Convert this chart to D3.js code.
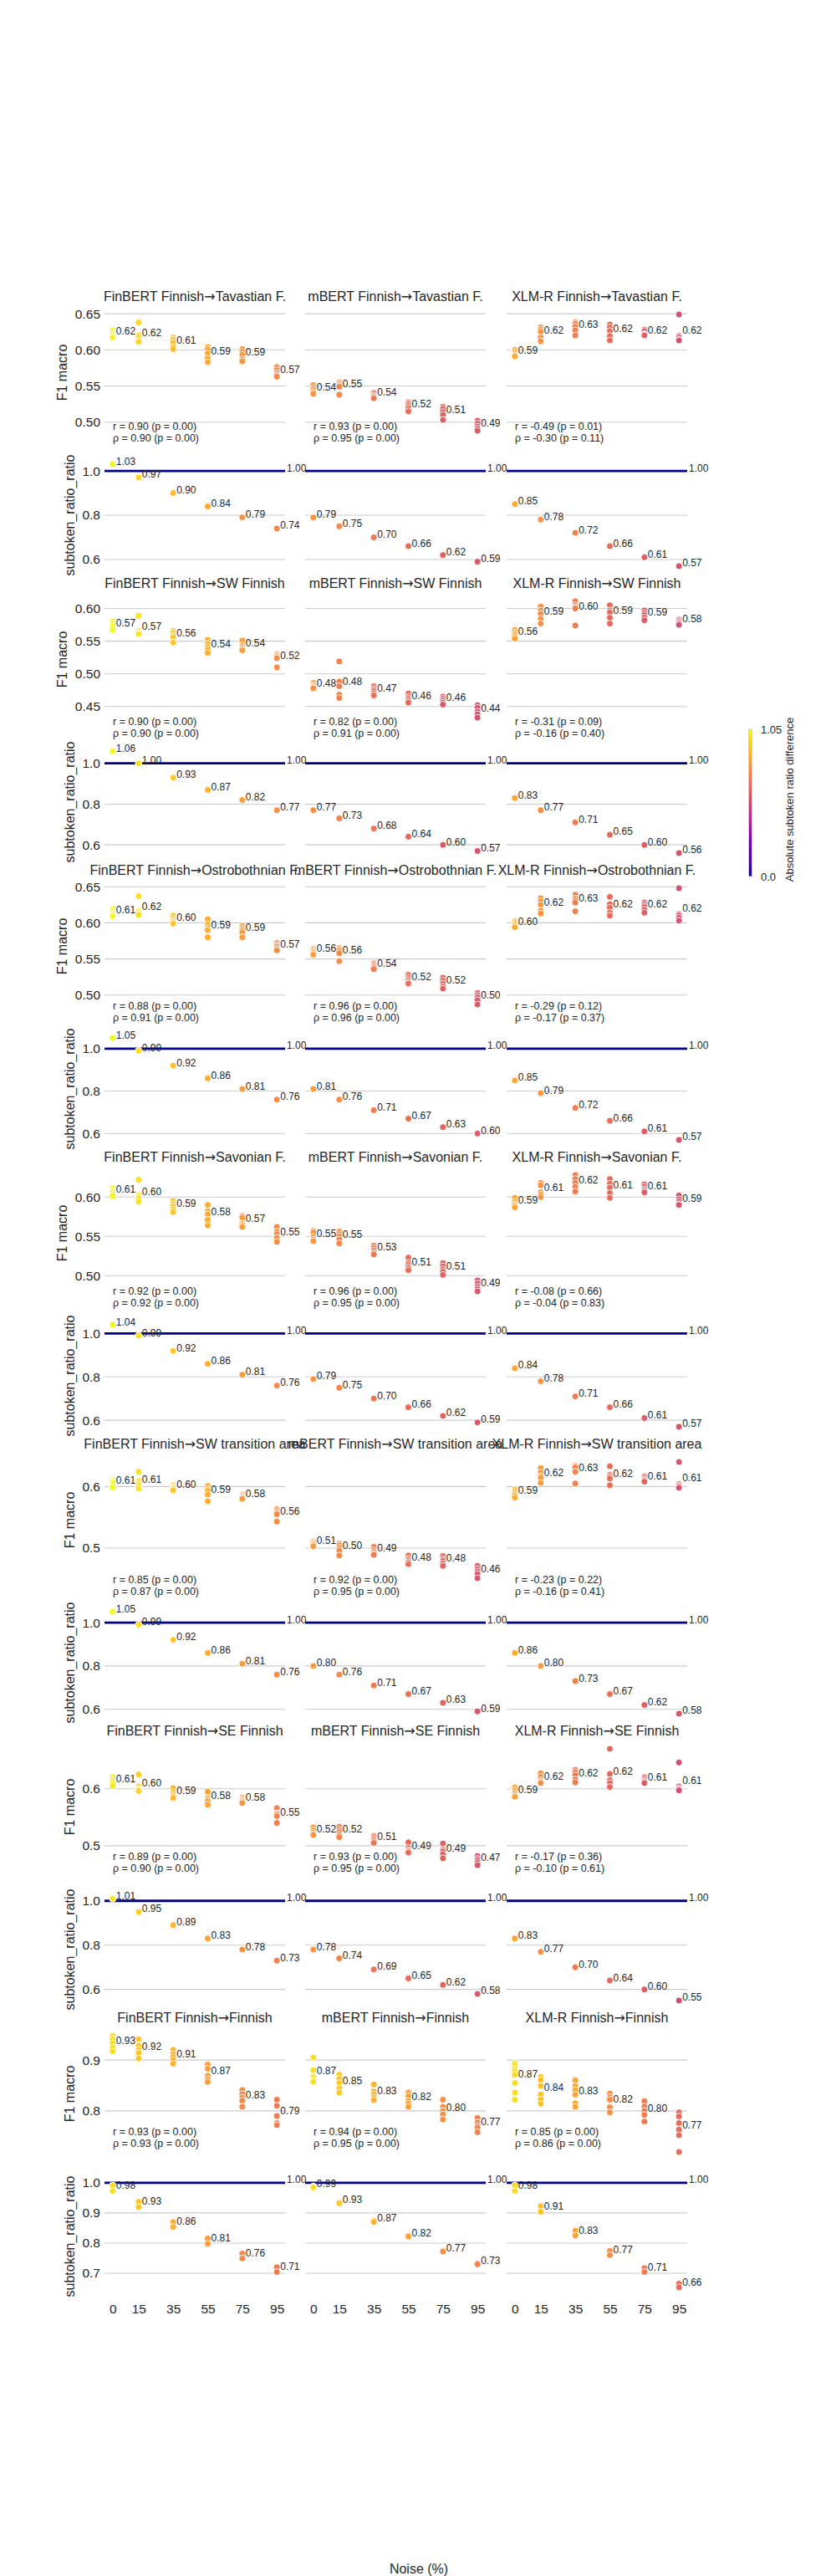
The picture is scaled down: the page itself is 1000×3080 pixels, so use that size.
<!DOCTYPE html>
<html>
<head>
<meta charset="utf-8">
<script src="https://cdn.jsdelivr.net/npm/d3@7"></script>
<style>
  body { margin: 0; background: #fff; }
  svg text { font-family: "Liberation Sans", Arial, sans-serif; fill: #262626; }
</style>
</head>
<body>
<div id="chart"></div>
<script>
// ---- data ----
const noiseLevels = [0, 15, 35, 55, 75, 95];
const models = ["FinBERT", "mBERT", "XLM-R"];
const dialects = ["Tavastian F.", "SW Finnish", "Ostrobothnian F.", "Savonian F.",
                  "SW transition area", "SE Finnish", "Finnish"];

// F1 macro per run: [model][noise level][runs]
const f1Tavastian = [
  [[0.627,0.624,0.621,0.619,0.617],[0.638,0.620,0.617,0.613,0.611],[0.617,0.614,0.610,0.604,0.601],
   [0.604,0.601,0.595,0.588,0.583],[0.601,0.597,0.593,0.587,0.584],[0.576,0.572,0.568,0.565,0.563]],
  [[0.551,0.547,0.544,0.541,0.539],[0.555,0.553,0.551,0.549,0.538],[0.541,0.540,0.537,0.535,0.533],
   [0.527,0.525,0.522,0.519,0.515],[0.521,0.518,0.514,0.510,0.503],[0.502,0.498,0.494,0.491,0.488]],
  [[0.600,0.597,0.594,0.592,0.591],[0.631,0.628,0.625,0.617,0.612],[0.638,0.636,0.632,0.627,0.620],
   [0.635,0.631,0.626,0.619,0.613],[0.628,0.626,0.622,0.621,0.620],[0.649,0.619,0.617,0.614,0.613]]
];
const f1SwFinnish = [
  [[0.580,0.576,0.573,0.570,0.567],[0.589,0.566,0.564,0.562,0.561],[0.566,0.563,0.559,0.556,0.548],
   [0.552,0.546,0.541,0.537,0.532],[0.551,0.544,0.541,0.538,0.536],[0.530,0.528,0.526,0.524,0.510]],
  [[0.486,0.483,0.481,0.479,0.478],[0.519,0.488,0.481,0.468,0.463],[0.481,0.477,0.474,0.470,0.467],
   [0.470,0.465,0.462,0.459,0.456],[0.465,0.462,0.459,0.456,0.453],[0.452,0.448,0.442,0.438,0.433]],
  [[0.567,0.563,0.560,0.557,0.554],[0.603,0.597,0.592,0.584,0.577],[0.611,0.605,0.602,0.600,0.574],
   [0.605,0.597,0.594,0.586,0.577],[0.597,0.593,0.590,0.586,0.582],[0.583,0.581,0.579,0.577,0.575]]
];
const f1Ostrobothnian = [
  [[0.619,0.616,0.613,0.611,0.609],[0.637,0.616,0.614,0.612,0.611],[0.610,0.606,0.603,0.601,0.599],
   [0.605,0.598,0.593,0.590,0.580],[0.596,0.593,0.590,0.587,0.580],[0.572,0.569,0.567,0.564,0.562]],
  [[0.564,0.562,0.560,0.558,0.556],[0.565,0.563,0.561,0.558,0.547],[0.544,0.542,0.540,0.538,0.536],
   [0.528,0.524,0.521,0.518,0.516],[0.524,0.520,0.516,0.512,0.509],[0.503,0.500,0.497,0.493,0.487]],
  [[0.602,0.600,0.598,0.596,0.594],[0.634,0.630,0.625,0.617,0.613],[0.639,0.634,0.631,0.628,0.616],
   [0.636,0.626,0.621,0.614,0.610],[0.628,0.625,0.622,0.618,0.614],[0.648,0.612,0.610,0.607,0.603]]
];
const f1Savonian = [
  [[0.611,0.608,0.606,0.603,0.601],[0.622,0.602,0.600,0.598,0.594],[0.595,0.591,0.588,0.584,0.581],
   [0.590,0.582,0.578,0.571,0.564],[0.576,0.574,0.566,0.564,0.562],[0.562,0.556,0.553,0.548,0.543]],
  [[0.557,0.555,0.549,0.546,0.544],[0.556,0.553,0.550,0.546,0.541],[0.538,0.535,0.532,0.529,0.527],
   [0.523,0.516,0.513,0.510,0.507],[0.516,0.512,0.508,0.505,0.501],[0.494,0.490,0.486,0.483,0.480]],
  [[0.599,0.594,0.591,0.589,0.587],[0.618,0.615,0.606,0.603,0.600],[0.628,0.623,0.618,0.613,0.607],
   [0.623,0.617,0.612,0.605,0.599],[0.616,0.613,0.610,0.608,0.606],[0.602,0.597,0.594,0.591,0.590]]
];
const f1SwTransition = [
  [[0.610,0.608,0.606,0.603,0.599],[0.624,0.609,0.605,0.601,0.597],[0.602,0.600,0.598,0.596,0.594],
   [0.601,0.596,0.593,0.587,0.576],[0.587,0.585,0.583,0.582,0.580],[0.563,0.560,0.557,0.555,0.543]],
  [[0.511,0.509,0.507,0.505,0.503],[0.507,0.504,0.500,0.496,0.488],[0.502,0.497,0.494,0.491,0.489],
   [0.488,0.483,0.480,0.477,0.474],[0.487,0.482,0.479,0.475,0.471],[0.471,0.466,0.462,0.458,0.451]],
  [[0.595,0.592,0.589,0.586,0.582],[0.630,0.623,0.617,0.614,0.606],[0.634,0.633,0.631,0.624,0.605],
   [0.633,0.619,0.616,0.613,0.602],[0.617,0.615,0.612,0.610,0.608],[0.640,0.604,0.602,0.600,0.598]]
];
const f1SeFinnish = [
  [[0.620,0.616,0.613,0.609,0.605],[0.625,0.604,0.600,0.598,0.596],[0.601,0.594,0.590,0.587,0.584],
   [0.595,0.584,0.581,0.578,0.572],[0.584,0.581,0.579,0.577,0.575],[0.566,0.557,0.555,0.552,0.540]],
  [[0.532,0.527,0.523,0.520,0.519],[0.533,0.528,0.524,0.519,0.515],[0.517,0.514,0.511,0.508,0.505],
   [0.506,0.496,0.492,0.490,0.488],[0.504,0.493,0.490,0.485,0.478],[0.482,0.477,0.474,0.470,0.466]],
  [[0.602,0.597,0.593,0.589,0.586],[0.627,0.621,0.615,0.612,0.610],[0.633,0.629,0.624,0.616,0.611],
   [0.670,0.626,0.615,0.610,0.603],[0.620,0.617,0.614,0.612,0.610],[0.646,0.604,0.601,0.599,0.597]]
];
const f1Finnish = [
  [[0.948,0.941,0.933,0.924,0.917],[0.941,0.928,0.920,0.914,0.903],[0.920,0.912,0.906,0.900,0.893],
   [0.891,0.883,0.869,0.862,0.857],[0.841,0.833,0.826,0.820,0.808],[0.822,0.810,0.790,0.776,0.772]],
  [[0.905,0.880,0.866,0.860,0.857],[0.871,0.863,0.855,0.844,0.836],[0.852,0.838,0.832,0.826,0.821],
   [0.836,0.829,0.819,0.814,0.808],[0.822,0.808,0.800,0.793,0.783],[0.786,0.777,0.771,0.767,0.758]],
  [[0.894,0.890,0.883,0.878,0.871,0.855,0.836,0.822],[0.867,0.861,0.849,0.832,0.822,0.814],
   [0.860,0.849,0.841,0.832,0.815,0.808],[0.834,0.827,0.822,0.807,0.797],
   [0.819,0.808,0.800,0.792,0.779],[0.797,0.789,0.776,0.763,0.752,0.719]]
];

// subtoken_ratio_ratio: [model][noise level]
const ratioTavastian = [[1.03,0.97,0.90,0.84,0.79,0.74],[0.79,0.75,0.70,0.66,0.62,0.59],[0.85,0.78,0.72,0.66,0.61,0.57]];
const ratioSwFinnish = [[1.06,1.00,0.93,0.87,0.82,0.77],[0.77,0.73,0.68,0.64,0.60,0.57],[0.83,0.77,0.71,0.65,0.60,0.56]];
const ratioOstrobothnian = [[1.05,0.99,0.92,0.86,0.81,0.76],[0.81,0.76,0.71,0.67,0.63,0.60],[0.85,0.79,0.72,0.66,0.61,0.57]];
const ratioSavonian = [[1.04,0.99,0.92,0.86,0.81,0.76],[0.79,0.75,0.70,0.66,0.62,0.59],[0.84,0.78,0.71,0.66,0.61,0.57]];
const ratioSwTransition = [[1.05,0.99,0.92,0.86,0.81,0.76],[0.80,0.76,0.71,0.67,0.63,0.59],[0.86,0.80,0.73,0.67,0.62,0.58]];
const ratioSeFinnish = [[1.01,0.95,0.89,0.83,0.78,0.73],[0.78,0.74,0.69,0.65,0.62,0.58],[0.83,0.77,0.70,0.64,0.60,0.55]];
const ratioFinnish = [
  [[0.991,0.973],[0.937,0.919],[0.870,0.853],[0.815,0.798],[0.765,0.749],[0.720,0.704]],
  [[0.988,0.984],[0.935,0.932],[0.874,0.870],[0.824,0.822],[0.775,0.772],[0.733,0.730]],
  [[0.991,0.973],[0.922,0.904],[0.841,0.825],[0.774,0.760],[0.717,0.704],[0.665,0.653]]
];

// Pearson r, p, Spearman rho, p : [model]
const statsTavastian = [[0.90,0.00,0.90,0.00],[0.93,0.00,0.95,0.00],[-0.49,0.01,-0.30,0.11]];
const statsSwFinnish = [[0.90,0.00,0.90,0.00],[0.82,0.00,0.91,0.00],[-0.31,0.09,-0.16,0.40]];
const statsOstrobothnian = [[0.88,0.00,0.91,0.00],[0.96,0.00,0.96,0.00],[-0.29,0.12,-0.17,0.37]];
const statsSavonian = [[0.92,0.00,0.92,0.00],[0.96,0.00,0.95,0.00],[-0.08,0.66,-0.04,0.83]];
const statsSwTransition = [[0.85,0.00,0.87,0.00],[0.92,0.00,0.95,0.00],[-0.23,0.22,-0.16,0.41]];
const statsSeFinnish = [[0.89,0.00,0.90,0.00],[0.93,0.00,0.95,0.00],[-0.17,0.36,-0.10,0.61]];
const statsFinnish = [[0.93,0.00,0.93,0.00],[0.94,0.00,0.95,0.00],[0.85,0.00,0.86,0.00]];

// tick values and labels per row
const f1Ticks = [[0.50,0.55,0.60,0.65],[0.45,0.50,0.55,0.60],[0.50,0.55,0.60,0.65],[0.50,0.55,0.60],[0.5,0.6],[0.5,0.6],[0.8,0.9]];
const f1TickLabels = [["0.50","0.55","0.60","0.65"],["0.45","0.50","0.55","0.60"],["0.50","0.55","0.60","0.65"],
                      ["0.50","0.55","0.60"],["0.5","0.6"],["0.5","0.6"],["0.8","0.9"]];
const ratioTicks = [[0.6,0.8,1.0],[0.6,0.8,1.0],[0.6,0.8,1.0],[0.6,0.8,1.0],[0.6,0.8,1.0],[0.6,0.8,1.0],[0.7,0.8,0.9,1.0]];
const ratioTickLabels = ratioTicks.map(t => t.map(v => v.toFixed(1)));
const colorMax = 1.05;

const f1Rows = [f1Tavastian, f1SwFinnish, f1Ostrobothnian, f1Savonian, f1SwTransition, f1SeFinnish, f1Finnish];
const ratioRows = [ratioTavastian, ratioSwFinnish, ratioOstrobothnian, ratioSavonian, ratioSwTransition, ratioSeFinnish, ratioFinnish];
const statRows = [statsTavastian, statsSwFinnish, statsOstrobothnian, statsSavonian, statsSwTransition, statsSeFinnish, statsFinnish];

// ---- layout ----
const W = 1000, H = 3080;
const colLeft = [125, 365, 606], colW = 216;
const rowTop0 = 369, rowStep = 343, f1H = 153, ratioGap = 180, ratioH = 134;
const statDy = [141, 150.7, 147.7, 146, 148, 135.7, 121.7];
const gridColor = "#cccccc";
const dotR = 4;

const svg = d3.select("#chart").append("svg")
  .attr("width", W).attr("height", H)
  .style("background", "#fff");

// matplotlib-like 5% margin
function padded(ext) {
  const m = (ext[1] - ext[0]) * 0.05;
  return [ext[0] - m, ext[1] + m];
}
const color = v => d3.interpolatePlasma(Math.max(0, Math.min(1, v / colorMax)));
const fmt2 = d3.format(".2f");
const asList = v => [].concat(v);

dialects.forEach((dialect, r) => {
  const top = rowTop0 + r * rowStep;
  const rTop = top + ratioGap;
  const f1 = f1Rows[r], ratio = ratioRows[r], stats = statRows[r];

  const yF = d3.scaleLinear()
    .domain(padded(d3.extent(f1.flat(2))))
    .range([top + f1H, top]);
  const yR = d3.scaleLinear()
    .domain(padded(d3.extent(ratio.flat(2))))
    .range([rTop + ratioH, rTop]);

  models.forEach((model, c) => {
    const left = colLeft[c];
    const x = d3.scaleLinear().domain(padded(d3.extent(noiseLevels))).range([left, left + colW]);
    const g = svg.append("g");

    // grid
    g.selectAll(".gf").data(f1Ticks[r]).enter().append("line")
      .attr("x1", left).attr("x2", left + colW)
      .attr("y1", d => yF(d)).attr("y2", d => yF(d))
      .attr("stroke", gridColor).attr("stroke-width", 1.1);
    g.selectAll(".gr").data(ratioTicks[r]).enter().append("line")
      .attr("x1", left).attr("x2", left + colW)
      .attr("y1", d => yR(d)).attr("y2", d => yR(d))
      .attr("stroke", gridColor).attr("stroke-width", 1.1);

    // title (arrow from DejaVu, as matplotlib falls back to it)
    const title = g.append("text")
      .attr("x", left + colW / 2).attr("y", top - 8.7)
      .attr("text-anchor", "middle").attr("font-size", 16);
    title.append("tspan").text(`${model} Finnish`);
    title.append("tspan").style("font-family", '"DejaVu Sans", sans-serif').text("\u2192");
    title.append("tspan").text(dialect);

    // F1 points
    const ratioMean = ratio[c].map(v => d3.mean(asList(v)));
    const pts = [];
    f1[c].forEach((runs, i) => runs.forEach(v => pts.push({ n: noiseLevels[i], v: v, col: color(ratioMean[i]) })));
    g.selectAll(".pf").data(pts).enter().append("circle")
      .attr("cx", d => x(d.n)).attr("cy", d => yF(d.v)).attr("r", dotR)
      .attr("fill", d => d.col).attr("stroke", "#fff").attr("stroke-width", 0.9);

    // F1 mean labels
    const means = f1[c].map((runs, i) => ({ n: noiseLevels[i], v: d3.mean(runs) }));
    g.selectAll(".lf").data(means).enter().append("text")
      .attr("x", d => x(d.n) + 4).attr("y", d => yF(d.v) + 0.5)
      .attr("font-size", 12).attr("fill", "#333")
      .text(d => fmt2(d.v));

    // correlation text
    const s = stats[c];
    const st = g.append("text").attr("font-size", 12.5).attr("fill", "#333");
    st.append("tspan").attr("x", left + 10).attr("y", top + statDy[r] + 4.4)
      .text(`r = ${s[0].toFixed(2)} (p = ${s[1].toFixed(2)})`);
    st.append("tspan").attr("x", left + 10).attr("y", top + statDy[r] + 17.9)
      .text(`\u03c1 = ${s[2].toFixed(2)} (p = ${s[3].toFixed(2)})`);

    // reference line at 1.0
    g.append("line")
      .attr("x1", left).attr("x2", left + colW)
      .attr("y1", yR(1)).attr("y2", yR(1))
      .attr("stroke", "#00008b").attr("stroke-width", 2.8);
    g.append("text")
      .attr("x", left + colW + 2).attr("y", yR(1) + 0.5)
      .attr("font-size", 12).attr("fill", "#333")
      .text("1.00");

    // ratio points
    const rpts = [];
    ratio[c].forEach((v, i) => asList(v).forEach(u => rpts.push({ n: noiseLevels[i], v: u, col: color(ratioMean[i]) })));
    g.selectAll(".pr").data(rpts).enter().append("circle")
      .attr("cx", d => x(d.n)).attr("cy", d => yR(d.v)).attr("r", dotR)
      .attr("fill", d => d.col).attr("stroke", "#fff").attr("stroke-width", 0.9);
    g.selectAll(".lr").data(ratioMean).enter().append("text")
      .attr("x", (d, i) => x(noiseLevels[i]) + 4).attr("y", d => yR(d) + 0.5)
      .attr("font-size", 12).attr("fill", "#333")
      .text(d => fmt2(d));

    // axes on the left column
    if (c === 0) {
      const axF = g.append("g").attr("transform", `translate(${left},0)`)
        .call(d3.axisLeft(yF).tickValues(f1Ticks[r]).tickFormat((d, i) => f1TickLabels[r][i]).tickSize(0).tickPadding(5));
      const axR = g.append("g").attr("transform", `translate(${left},0)`)
        .call(d3.axisLeft(yR).tickValues(ratioTicks[r]).tickFormat((d, i) => ratioTickLabels[r][i]).tickSize(0).tickPadding(5));
      [axF, axR].forEach(a => {
        a.select(".domain").remove();
        a.selectAll("text").attr("font-size", 15.5).attr("fill", "#262626")
          .style("font-family", '"Liberation Sans", Arial, sans-serif');
      });
      const wF = d3.max(axF.selectAll("text").nodes(), n => n.getBBox().width);
      const wR = d3.max(axR.selectAll("text").nodes(), n => n.getBBox().width);
      g.append("text")
        .attr("transform", `translate(${left - 5 - wF - 15},${top + f1H / 2}) rotate(-90)`)
        .attr("text-anchor", "middle").attr("dy", "0.35em").attr("font-size", 16)
        .text("F1 macro");
      g.append("text")
        .attr("transform", `translate(${left - 5 - wR - 15},${rTop + ratioH / 2}) rotate(-90)`)
        .attr("text-anchor", "middle").attr("dy", "0.35em").attr("font-size", 16)
        .text("subtoken_ratio_ratio");
    }

    // x axis on the last row
    if (r === dialects.length - 1) {
      const axX = g.append("g").attr("transform", `translate(0,${rTop + ratioH})`)
        .call(d3.axisBottom(x).tickValues(noiseLevels).tickSize(0).tickPadding(13.5));
      axX.select(".domain").remove();
      axX.selectAll("text").attr("font-size", 15.5).attr("fill", "#262626")
        .style("font-family", '"Liberation Sans", Arial, sans-serif');
    }
  });
});

// x label
svg.append("text")
  .attr("x", 501).attr("y", 3077)
  .attr("text-anchor", "middle").attr("font-size", 16)
  .text("Noise (%)");

// colorbar
const cb = d3.scaleLinear().domain([0, colorMax]).range([1048, 872]);
const grad = svg.append("defs").append("linearGradient")
  .attr("id", "cbgrad").attr("x1", 0).attr("y1", 1).attr("x2", 0).attr("y2", 0);
d3.range(0, 1.0001, 0.05).forEach(t => {
  grad.append("stop").attr("offset", t).attr("stop-color", d3.interpolatePlasma(t));
});
svg.append("rect")
  .attr("x", 895.5).attr("y", cb(colorMax)).attr("width", 4).attr("height", cb(0) - cb(colorMax))
  .attr("fill", "url(#cbgrad)").attr("stroke", "#d0d0d0").attr("stroke-width", 1);
const axC = svg.append("g").attr("transform", "translate(900,0)")
  .call(d3.axisRight(cb).tickValues([0, colorMax]).tickFormat(d => d === 0 ? "0.0" : "1.05").tickSize(0).tickPadding(10));
axC.select(".domain").remove();
axC.selectAll("text").attr("font-size", 13).attr("fill", "#262626")
  .style("font-family", '"Liberation Sans", Arial, sans-serif');
svg.append("text")
  .attr("transform", "translate(944,956) rotate(-90)")
  .attr("text-anchor", "middle").attr("dy", "0.35em").attr("font-size", 13)
  .text("Absolute subtoken ratio difference");
</script>
</body>
</html>
